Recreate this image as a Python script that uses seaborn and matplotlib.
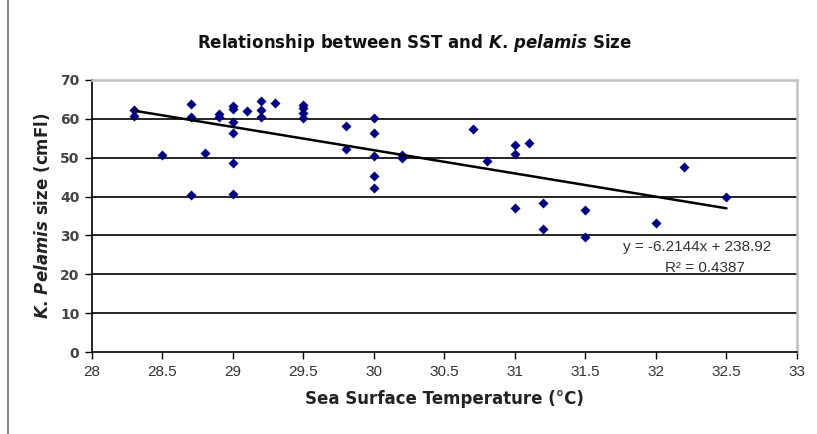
import matplotlib
matplotlib.use("Agg")
import matplotlib.pyplot as plt
import seaborn as sns
import pandas as pd
from matplotlib.lines import Line2D

# ---- data ----
sst = [28.3, 28.3, 28.5, 28.7, 28.7, 28.7, 28.8, 28.9, 28.9,
       29.0, 29.0, 29.0, 29.0, 29.0, 29.0, 29.1, 29.2, 29.2, 29.2, 29.3,
       29.5, 29.5, 29.5, 29.5, 29.8, 29.8,
       30.0, 30.0, 30.0, 30.0, 30.0, 30.2, 30.2, 30.7, 30.8,
       31.0, 31.0, 31.0, 31.1, 31.2, 31.2, 31.5, 31.5, 32.0, 32.2, 32.5]
size = [62.3, 60.8, 50.7, 63.7, 60.6, 40.3, 51.3, 61.2, 60.6,
        63.4, 62.5, 59.1, 56.3, 48.7, 40.7, 61.9, 64.7, 62.3, 60.4, 64.0,
        63.6, 62.7, 61.5, 60.1, 58.2, 52.3,
        60.3, 56.4, 50.4, 45.3, 42.2, 50.7, 49.8, 57.4, 49.1,
        53.2, 51.0, 37.0, 53.7, 38.3, 31.7, 36.5, 29.7, 33.3, 47.7, 40.0]
x_ticks = [28, 28.5, 29, 29.5, 30, 30.5, 31, 31.5, 32, 32.5, 33]
x_tick_labels = ["28", "28.5", "29", "29.5", "30", "30.5", "31", "31.5", "32", "32.5", "33"]
y_ticks = [0, 10, 20, 30, 40, 50, 60, 70]
equation_text = "y = -6.2144x + 238.92"
r2_text = "R² = 0.4387"

df = pd.DataFrame({"sst": sst, "size": size})

sns.set_style("white")
plt.rcParams["font.family"] = ["DejaVu Sans"]
plt.rcParams["mathtext.fontset"] = "custom"
plt.rcParams["mathtext.it"] = "DejaVu Sans:italic:bold"
plt.rcParams["mathtext.rm"] = "DejaVu Sans:bold"

fig = plt.figure(figsize=(8.17, 4.34), dpi=100)
ax = fig.add_axes([0.1126, 0.1889, 0.8629, 0.6268])

sns.regplot(data=df, x="sst", y="size", ax=ax, ci=None, truncate=True,
            marker="D",
            scatter_kws=dict(color="#000080", s=26, linewidths=0, alpha=1, zorder=3),
            line_kws=dict(color="black", lw=1.8, zorder=4))

ax.set_xlim(28, 33)
ax.set_ylim(0, 70)
ax.set_xticks(x_ticks)
ax.set_xticklabels(x_tick_labels, family="Liberation Sans", fontsize=11, color="#333333")
ax.set_yticks(y_ticks)
ax.set_yticklabels([str(v) for v in y_ticks], family="DejaVu Sans", fontsize=10,
                   color="#444444", fontweight="bold")
ax.tick_params(axis="both", direction="out", length=5, width=1, color="black",
               bottom=True, left=True, pad=4)

ax.grid(axis="y", color="black", lw=1.2)
ax.grid(axis="x", visible=False)
gl = ax.get_ygridlines()
gl[0].set_visible(False)
gl[-1].set_visible(False)
ax.set_axisbelow(True)

for s in ["left", "bottom"]:
    ax.spines[s].set_color("black")
    ax.spines[s].set_linewidth(1.2)
for s in ["top", "right"]:
    ax.spines[s].set_color("#c0c0c0")
    ax.spines[s].set_linewidth(1.8)

ax.set_xlabel("Sea Surface Temperature (°C)", fontsize=12, fontweight="bold",
              color="#222222", labelpad=8)
ax.set_ylabel(r"$\mathit{K}$. $\mathit{Pelamis}$ size (cmFl)", fontsize=12, fontweight="bold",
              color="#222222", labelpad=6)

fig.text(0.508, 0.901, r"Relationship between SST and $\mathit{K}$. $\mathit{pelamis}$ Size",
         ha="center", va="center", fontsize=12, fontweight="bold", color="#111111")

ax.text(32.29, 27.0, equation_text, ha="center", va="center",
        family="Liberation Sans", fontsize=11, color="#333333")
ax.text(32.35, 21.6, r2_text, ha="center", va="center",
        family="Liberation Sans", fontsize=11, color="#333333")

fig.add_artist(Line2D([0.01, 0.01], [0.0, 1.0], color="#888888", lw=1.5,
                      transform=fig.transFigure))

fig.savefig("out.png", dpi=100)
